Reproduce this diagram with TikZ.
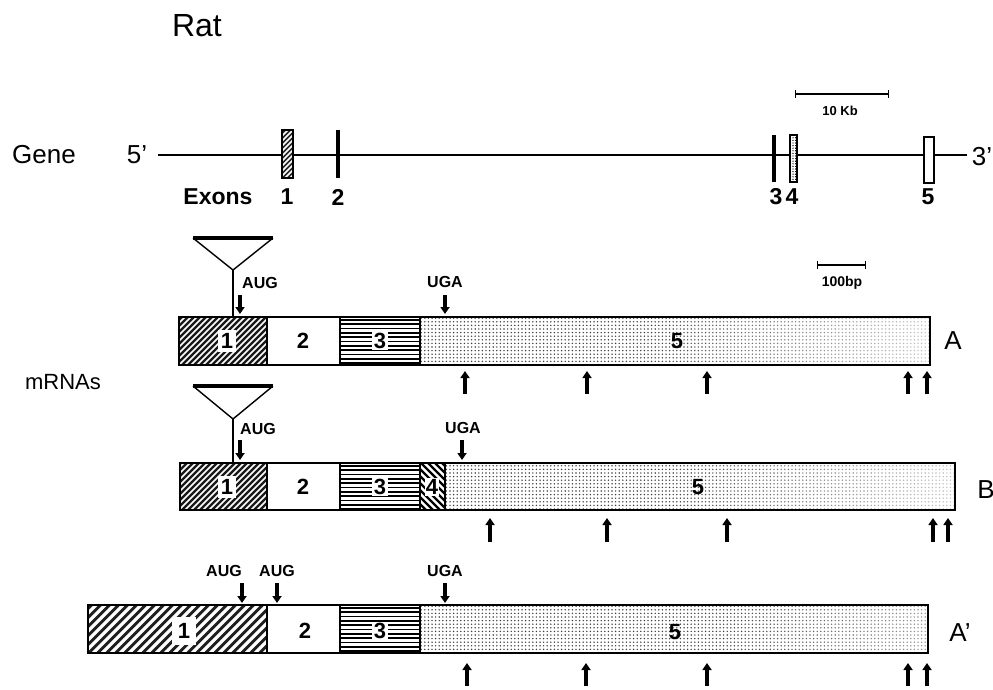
\documentclass[tikz,border=0pt]{standalone}
\usepackage{fontspec}
\setmainfont{Liberation Sans}
\usetikzlibrary{patterns,patterns.meta,fadings,arrows.meta}
\begin{document}
\begin{tikzpicture}[x=1pt,y=-1pt,
  boxline/.style={draw=black,line width=2.4pt},
  divline/.style={draw=black,line width=1.5pt},
  whitestripe/.style={draw=white,line width=1.6pt},
  blackstripe/.style={draw=black,line width=1.7pt},
  dotfive/.style={fill=white,postaction={pattern={Dots[distance=3.6pt,radius=0.8pt]},pattern color=black!75}},
  numlab/.style={font=\bfseries\fontsize{22}{22}\selectfont},
  boxlab/.style={numlab,fill=white,inner sep=3pt},
  rowlab/.style={font=\fontsize{26}{26}\selectfont},
  codon/.style={font=\bfseries\fontsize{16}{16}\selectfont,inner sep=0pt},
  smalllab/.style={font=\bfseries\fontsize{13}{13}\selectfont,inner sep=0pt},
  exlab/.style={font=\bfseries\fontsize{23}{23}\selectfont,inner sep=0pt},
  darrow/.style={line width=3.4pt,-{Triangle[width=9pt,length=7pt]}},
  uarrow/.style={line width=4pt,-{Triangle[width=9pt,length=7pt]}},
  stem/.style={line width=1.6pt},
  trione/.style={line width=1.4pt,line join=miter},
  scalebar/.style={line width=1.4pt,{Bar[width=8pt]}-{Bar[width=8pt]}}
]
\useasboundingbox (0,0) rectangle (993,689);
\fill[white] (0,0) rectangle (993,689);

% ---------- titles ----------
\node[font=\fontsize{32}{32}\selectfont] (rat) at (197,26) {Rat};
\node[font=\fontsize{26}{26}\selectfont] (gene) at (44,155) {Gene};
\node[font=\fontsize{22}{22}\selectfont] (mrnas) at (63,382) {mRNAs};

% ---------- gene ----------
\node[font=\fontsize{26}{26}\selectfont] (p5) at (137,155) {5'};
\node[font=\fontsize{26}{26}\selectfont] (p3) at (982,157) {3'};
\coordinate (gl) at (158,155);
\coordinate (gr) at (967,155);
\draw[line width=1.6pt] (gl) -- (gr);
\begin{scope}
  \clip (282,130) rectangle (293,178);
  \fill[black!85] (282,130) rectangle (293,178);
  \foreach \x in {230,235,...,295} \draw[draw=white,line width=1.5pt] (\x,178) -- ++(48,-48);
\end{scope}
\draw[line width=1.3pt] (282,130) rectangle (293,178);
\draw[line width=3.2pt] (338,130) -- (338,178);
\draw[line width=3.2pt] (774,135) -- (774,182);
\draw[line width=1.3pt,fill=white,postaction={pattern={Dots[distance=2.6pt,radius=0.7pt]},pattern color=black}] (790,135) rectangle (797,182);
\draw[line width=1.4pt,fill=white] (924,137) rectangle (934,183);
\node[exlab] (exons) at (218,197) {Exons};
\node[exlab] (g1) at (287,197) {1};
\node[exlab] (g2) at (338,197) {2};
\node[exlab] (g3) at (776,197) {3};
\node[exlab] (g4) at (792,197) {4};
\node[exlab] (g5) at (928,197) {5};

% scale 10 Kb
\coordinate (k1) at (795,94);
\coordinate (k2) at (889,94);
\draw[scalebar] (k1) -- (k2);
\node[smalllab] (kb) at (840,111) {10 Kb};

% scale 100bp
\coordinate (b1) at (817,265);
\coordinate (b2) at (866,265);
\draw[scalebar] (b1) -- (b2);
\node[smalllab,font=\bfseries\fontsize{14}{14}\selectfont] (bp) at (842,283) {100bp};

% ---------- mRNA A ----------
\begin{scope}
  \clip (179,317) rectangle (267,365);
  \fill[black!90] (179,317) rectangle (267,365);
  \foreach \x in {125,131,...,270} \draw[whitestripe] (\x,365) -- ++(48,-48);
\end{scope}
\path[fill=white] (267,317) rectangle (340,365);
\begin{scope}
  \clip (340,317) rectangle (420,365);
  \foreach \y in {320,324.3,...,365} \draw[blackstripe] (340,\y) -- (420,\y);
\end{scope}
\path[dotfive] (420,317) rectangle (930,365);
\fill[white,path fading=west,opacity=0.7] (650,318) rectangle (929,364);
\draw[divline] (267,317) -- (267,365) (340,317) -- (340,365) (420,317) -- (420,365);
\draw[boxline] (179,317) rectangle (930,365);
\node[boxlab] (a1) at (227,341) {1};
\node[numlab] (a2) at (303,341) {2};
\node[boxlab,inner sep=1.5pt] (a3) at (380,341) {3};
\node[numlab] (a5) at (677,341) {5};
\node[rowlab] (la) at (953,341) {A};
% triangle + stem
\coordinate (taL) at (193,238); \coordinate (taR) at (273,238); \coordinate (taP) at (233,270);
\coordinate (taS) at (233,317);
\draw[trione] (taL) -- (taP) -- (taR);
\draw[line width=3.8pt] (taL) -- (taR);
\draw[stem] (taP) -- (taS);
\node[codon] (aaug) at (260,283) {AUG};
\coordinate (aa1) at (240,295); \coordinate (aa2) at (240,314);
\draw[darrow] (aa1) -- (aa2);
\node[codon] (auga) at (445,282) {UGA};
\coordinate (au1) at (445,295); \coordinate (au2) at (445,314);
\draw[darrow] (au1) -- (au2);
\foreach \x [count=\i] in {465,587,707,908,927}{
  \coordinate (aup\i b) at (\x,394);
  \coordinate (aup\i t) at (\x,371);
  \draw[uarrow] (aup\i b) -- (aup\i t);
}

% ---------- mRNA B ----------
\begin{scope}
  \clip (180,463) rectangle (267,510);
  \fill[black!90] (180,463) rectangle (267,510);
  \foreach \x in {125,131,...,270} \draw[whitestripe] (\x,510) -- ++(47,-47);
\end{scope}
\path[fill=white] (267,463) rectangle (340,510);
\begin{scope}
  \clip (340,463) rectangle (420,510);
  \foreach \y in {466,470.3,...,510} \draw[blackstripe] (340,\y) -- (420,\y);
\end{scope}
\begin{scope}
  \clip (420,463) rectangle (445,510);
  \fill[white] (420,463) rectangle (445,510);
  \foreach \x in {372,379,...,450} \draw[draw=black,line width=2.4pt] (\x,463) -- ++(47,47);
\end{scope}
\path[dotfive] (445,463) rectangle (955,510);
\fill[white,path fading=west,opacity=0.7] (670,464) rectangle (954,509);
\draw[divline] (267,463) -- (267,510) (340,463) -- (340,510) (420,463) -- (420,510) (445,463) -- (445,510);
\draw[boxline] (180,463) rectangle (955,510);
\node[boxlab] (bb1) at (227,487) {1};
\node[numlab] (bb2) at (303,487) {2};
\node[boxlab,inner sep=1.5pt] (bb3) at (380,487) {3};
\node[boxlab,inner sep=1pt] (bb4) at (432,487) {4};
\node[numlab] (bb5) at (698,487) {5};
\node[rowlab] (lb) at (986,490) {B};
\coordinate (tbL) at (193,386); \coordinate (tbR) at (273,386); \coordinate (tbP) at (233,419);
\coordinate (tbS) at (233,463);
\draw[trione] (tbL) -- (tbP) -- (tbR);
\draw[line width=3.8pt] (tbL) -- (tbR);
\draw[stem] (tbP) -- (tbS);
\node[codon] (baug) at (258,429) {AUG};
\coordinate (ba1) at (240,440); \coordinate (ba2) at (240,460);
\draw[darrow] (ba1) -- (ba2);
\node[codon] (buga) at (463,428) {UGA};
\coordinate (bu1) at (462,440); \coordinate (bu2) at (462,460);
\draw[darrow] (bu1) -- (bu2);
\foreach \x [count=\i] in {490,607,727,933,948}{
  \coordinate (bup\i b) at (\x,542);
  \coordinate (bup\i t) at (\x,518);
  \draw[uarrow] (bup\i b) -- (bup\i t);
}

% ---------- mRNA A' ----------
\begin{scope}
  \clip (88,605) rectangle (267,653);
  \fill[black!88] (88,605) rectangle (267,653);
  \foreach \x in {30,39,...,270} \draw[draw=white,line width=3.2pt] (\x,653) -- ++(48,-48);
\end{scope}
\path[fill=white] (267,605) rectangle (340,653);
\begin{scope}
  \clip (340,605) rectangle (420,653);
  \foreach \y in {608,612.3,...,653} \draw[blackstripe] (340,\y) -- (420,\y);
\end{scope}
\path[dotfive] (420,605) rectangle (928,653);
\fill[white,path fading=west,opacity=0.45] (720,606) rectangle (927,652);
\draw[divline] (267,605) -- (267,653) (340,605) -- (340,653) (420,605) -- (420,653);
\draw[boxline] (88,605) rectangle (928,653);
\node[boxlab,inner sep=6pt] (c1) at (184,631) {1};
\node[numlab] (c2) at (305,631) {2};
\node[boxlab,inner sep=1.5pt] (c3) at (380,631) {3};
\node[numlab] (c5) at (675,632) {5};
\node[rowlab] (lc) at (960,633) {A'};
\node[codon] (caug1) at (224,571) {AUG};
\node[codon] (caug2) at (277,571) {AUG};
\coordinate (ca1) at (242,583); \coordinate (ca2) at (242,603);
\draw[darrow] (ca1) -- (ca2);
\coordinate (cb1) at (277,583); \coordinate (cb2) at (277,603);
\draw[darrow] (cb1) -- (cb2);
\node[codon] (cuga) at (445,571) {UGA};
\coordinate (cu1) at (445,583); \coordinate (cu2) at (445,603);
\draw[darrow] (cu1) -- (cu2);
\foreach \x [count=\i] in {467,586,707,908,927}{
  \coordinate (cup\i b) at (\x,686);
  \coordinate (cup\i t) at (\x,663);
  \draw[uarrow] (cup\i b) -- (cup\i t);
}
\end{tikzpicture}
\end{document}
